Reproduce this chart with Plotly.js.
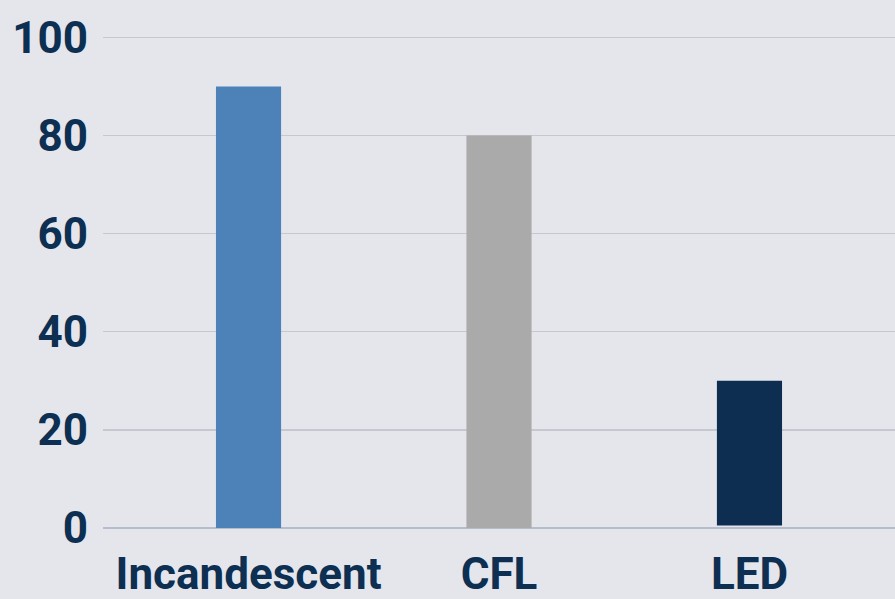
<!DOCTYPE html>
<html><head><meta charset="utf-8">
<script src="https://cdn.plot.ly/plotly-3.0.1.min.js"></script>
<style>html,body{margin:0;padding:0;background:#e5e6ec;}</style>
</head><body>
<div id="chart" style="width:895px;height:599px;"></div>
<script>
const categories = ["Incandescent", "CFL", "LED"];
const values = [90, 80, 30];
const barBase = [0, 0, 0.5];
const barColors = ["#4d82b8", "#aaaaaa", "#0d2e50"];
const yTicks = [0, 20, 40, 60, 80, 100];

Plotly.newPlot("chart", [{
  type: "bar",
  x: categories,
  y: values.map((v, i) => v - barBase[i]),
  base: barBase,
  width: 0.26,
  marker: {color: barColors, line: {width: 0}},
  hoverinfo: "skip"
}], {
  width: 895, height: 599,
  paper_bgcolor: "#e5e6ec", plot_bgcolor: "#e5e6ec",
  margin: {l: 103, r: 0, t: 35, b: 71},
  showlegend: false,
  font: {family: "Roboto", color: "#0d2f52"},
  xaxis: {
    range: [-0.581, 2.581],
    showgrid: false, zeroline: false, showline: false, ticks: "",
    tickfont: {family: "Roboto", size: 44, weight: "bold", color: "#0d2f52"},
    ticklabelstandoff: 16
  },
  yaxis: {
    range: [0, 100.5],
    tickvals: yTicks,
    gridcolor: "#c6c7d1", gridwidth: 1.3,
    zeroline: true, zerolinecolor: "#b4bccd", zerolinewidth: 1.3,
    showline: false, ticks: "",
    tickfont: {family: "Roboto", size: 44, weight: "bold", color: "#0d2f52"},
    ticklabelstandoff: 14
  }
}, {displayModeBar: false, staticPlot: true});
</script>
</body></html>
